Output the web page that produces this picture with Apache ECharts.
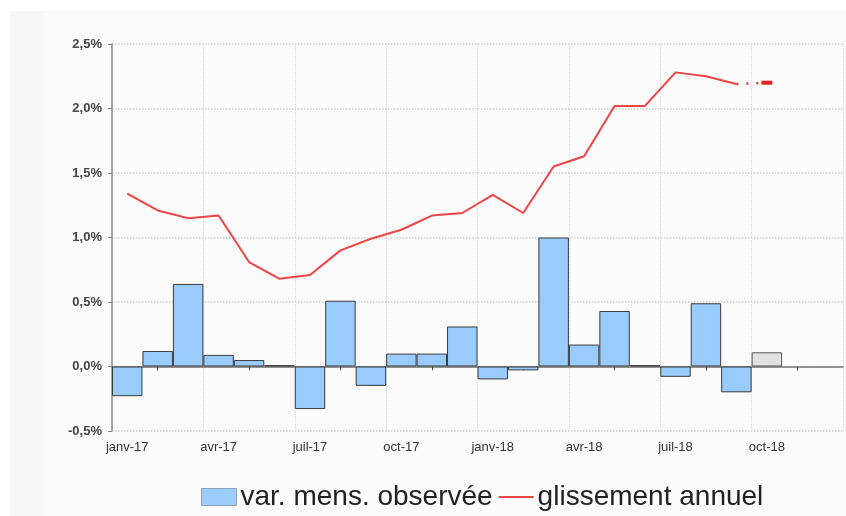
<!DOCTYPE html>
<html>
<head>
<meta charset="utf-8">
<script src="https://cdn.jsdelivr.net/npm/echarts@6/dist/echarts.min.js"></script>
<style>html,body{margin:0;padding:0;background:#fff}#c{width:846px;height:516px}</style>
</head>
<body>
<div id="c"></div>
<script>
var months = ['janv-17','févr-17','mars-17','avr-17','mai-17','juin-17','juil-17','août-17','sept-17','oct-17','nov-17','déc-17',
              'janv-18','févr-18','mars-18','avr-18','mai-18','juin-18','juil-18','août-18','sept-18','oct-18','nov-18','déc-18'];
var varMens = [-0.23, 0.12, 0.64, 0.09, 0.05, 0.01, -0.33, 0.51, -0.15, 0.10, 0.10, 0.31,
               -0.10, -0.03, 1.00, 0.17, 0.43, 0.01, -0.08, 0.49, -0.20, 0.11];
var provisionalIndex = 21;
var glissement = [1.34, 1.21, 1.15, 1.17, 0.81, 0.68, 0.71, 0.90, 0.99, 1.06, 1.17, 1.19,
                  1.33, 1.19, 1.55, 1.63, 2.02, 2.02, 2.28, 2.25, 2.19];
var glissementPrev = 2.20;
var yTicks = {min: -0.5, max: 2.5, step: 0.5};

var barData = varMens.map(function (v, i) {
  if (i === provisionalIndex) {
    return {value: v, itemStyle: {color: '#e2e2e2', borderColor: '#555'}};
  }
  return v;
});
var lineData = glissement.slice();
var dashData = months.map(function () { return null; });
dashData[glissement.length - 1] = glissement[glissement.length - 1];
dashData[glissement.length] = glissementPrev;

var chart = echarts.init(document.getElementById('c'));
var font = 'Liberation Sans, Arial, sans-serif';
chart.setOption({
  backgroundColor: '#ffffff',
  animation: false,
  graphic: [
    {type: 'rect', z: -10, silent: true, shape: {x: 10, y: 11, width: 836, height: 505}, style: {fill: '#fbfbfb'}},
    {type: 'rect', z: -10, silent: true, shape: {x: 10, y: 11, width: 34, height: 505}, style: {fill: '#f6f6f6'}}
  ],
  grid: {left: 112, right: 3, top: 44, bottom: 85},
  legend: {
    top: 478, left: 196,
    itemGap: 6, itemWidth: 35, itemHeight: 17,
    textStyle: {fontFamily: font, fontSize: 28, color: '#222', padding: [0, 0, 0, -1]},
    data: [
      {name: 'var. mens. observée', icon: 'rect', itemStyle: {color: '#9dcdfb', borderColor: '#8fa3b8', borderWidth: 1}},
      {name: 'glissement annuel', icon: 'path://M0,0 L32,0 L32,2 L0,2 Z', itemStyle: {color: '#ee4444'}}
    ]
  },
  xAxis: [
    {
      type: 'category', data: months, boundaryGap: true,
      axisLine: {onZero: true, lineStyle: {color: '#777', width: 1.5}},
      axisTick: {show: true, alignWithLabel: true, length: 4,
                 interval: function (i) { return i % 3 === 1; },
                 lineStyle: {color: '#555'}},
      axisLabel: {show: false},
      splitLine: {show: false}
    },
    {
      type: 'category', data: months, boundaryGap: true, position: 'bottom',
      axisLine: {show: false, onZero: false},
      axisTick: {show: false},
      axisLabel: {interval: 2, margin: 10, fontFamily: font, fontSize: 13, color: '#333'},
      splitLine: {show: true, interval: function (i) { return i > 0 && i % 3 === 0; },
                  lineStyle: {color: '#d6d6d6', type: 'dotted', width: 1}}
    }
  ],
  yAxis: {
    type: 'value', min: yTicks.min, max: yTicks.max, interval: yTicks.step,
    axisLine: {show: true, lineStyle: {color: '#888', width: 1.5}},
    axisTick: {show: true, length: 4, lineStyle: {color: '#888'}},
    axisLabel: {margin: 10, fontFamily: font, fontSize: 13, fontWeight: 'bold', color: '#444',
                formatter: function (v) { return v.toFixed(1).replace('.', ',') + '%'; }},
    splitLine: {lineStyle: {color: '#cfcfcf', type: 'dotted', width: 1.5}}
  },
  series: [
    {
      name: 'var. mens. observée', type: 'bar', xAxisIndex: 0, data: barData,
      barCategoryGap: '0%',
      itemStyle: {color: '#99ccfc', borderColor: '#3a3a3a', borderWidth: 1}
    },
    {
      name: 'glissement annuel', type: 'line', xAxisIndex: 0, data: lineData,
      symbol: 'none', lineStyle: {color: '#ee4444', width: 2}, itemStyle: {color: '#ee4444'}, z: 5
    },
    {
      name: 'glissement annuel prévision', type: 'line', xAxisIndex: 0, data: dashData,
      symbol: function (v, p) { return p.dataIndex === glissement.length ? 'rect' : 'none'; },
      symbolSize: [11, 4],
      lineStyle: {color: '#ee3333', width: 2.5, type: [2, 8]}, itemStyle: {color: '#e52222'}, z: 5
    }
  ]
});
</script>
</body>
</html>
